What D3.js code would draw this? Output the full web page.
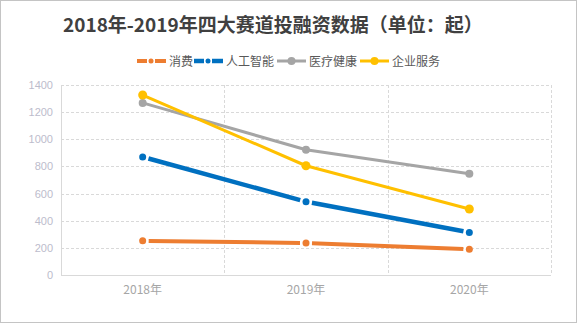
<!DOCTYPE html>
<html><head><meta charset="utf-8">
<script src="https://cdn.jsdelivr.net/npm/d3@7/dist/d3.min.js"></script>
<style>html,body{margin:0;padding:0;background:#fff;}svg{display:block;}</style>
</head><body>
<script>
const categories = ["2018年", "2019年", "2020年"];
const seriesNames = ["消费", "人工智能", "医疗健康", "企业服务"];
const consumption = [252, 236, 189];
const ai = [870, 540, 314];
const medical = [1268, 923, 746];
const enterprise = [1326, 805, 486];
const yTicks = [0, 200, 400, 600, 800, 1000, 1200, 1400];
const title = "2018年-2019年四大赛道投融资数据（单位：起）";

const W = 578, H = 324;
const m = {l: 61, r: 551, t: 85, b: 275};
const font = "'Noto Sans CJK SC','Liberation Sans',sans-serif";

const svg = d3.select("body").append("svg").attr("width", W).attr("height", H);
svg.append("rect").attr("x", 0.5).attr("y", 0.5).attr("width", W - 2).attr("height", H - 2)
  .attr("fill", "#fff").attr("stroke", "#c4c4c4");

const x = d3.scaleBand().domain(categories).range([m.l, m.r]);
const y = d3.scaleLinear().domain([0, 1400]).range([m.b, m.t]);

// horizontal gridlines
svg.append("g").selectAll("line").data(yTicks.filter(d => d > 0)).join("line")
  .attr("x1", m.l).attr("x2", m.r).attr("y1", d => Math.round(y(d)) + 0.5).attr("y2", d => Math.round(y(d)) + 0.5)
  .attr("stroke", "#d9d9d9").attr("stroke-dasharray", "3,2");
// vertical gridlines at band boundaries
const bounds = categories.slice(1).map(c => x(c)).concat([m.r]);
svg.append("g").selectAll("line").data(bounds).join("line")
  .attr("x1", d => Math.round(d) + 0.5).attr("x2", d => Math.round(d) + 0.5).attr("y1", m.t).attr("y2", m.b)
  .attr("stroke", "#d9d9d9").attr("stroke-dasharray", "3,2");
// axes lines
svg.append("line").attr("x1", m.l).attr("x2", m.r).attr("y1", m.b + 0.5).attr("y2", m.b + 0.5).attr("stroke", "#d9d9d9");
svg.append("line").attr("x1", m.l + 0.5).attr("x2", m.l + 0.5).attr("y1", m.t).attr("y2", m.b).attr("stroke", "#d9d9d9");

// y axis labels
const yAxis = d3.axisLeft(y).tickValues(yTicks).tickFormat(d3.format("d")).tickSize(0).tickPadding(8);
const yg = svg.append("g").attr("transform", `translate(${m.l},0)`).call(yAxis);
yg.select(".domain").remove();
yg.selectAll("text").attr("fill", "#bcbccc").attr("font-size", 11).attr("font-family", "'Liberation Sans',Arial,sans-serif");

// x axis labels
const xAxis = d3.axisBottom(x).tickSize(0).tickPadding(10);
const xg = svg.append("g").attr("transform", `translate(0,${m.b})`).call(xAxis);
xg.select(".domain").remove();
xg.selectAll("text").attr("fill", "#a6a6a6").attr("font-size", 12).attr("font-family", font);

const series = [
  {name: seriesNames[0], values: consumption, color: "#ED7D31", width: 4, r: 3.5, gap: 6},
  {name: seriesNames[1], values: ai, color: "#0070C0", width: 4.5, r: 3.5, gap: 6},
  {name: seriesNames[2], values: medical, color: "#A5A5A5", width: 3, r: 4, gap: 0},
  {name: seriesNames[3], values: enterprise, color: "#FFC000", width: 3, r: 4.5, gap: 0}
];
const cx = c => x(c) + x.bandwidth() / 2;

series.forEach(s => {
  const pts = s.values.map((v, i) => [cx(categories[i]), y(v)]);
  const g = svg.append("g");
  if (s.gap > 0) {
    for (let i = 0; i < pts.length - 1; i++) {
      const [x1, y1] = pts[i], [x2, y2] = pts[i + 1];
      const len = Math.hypot(x2 - x1, y2 - y1);
      const ux = (x2 - x1) / len, uy = (y2 - y1) / len;
      g.append("line")
        .attr("x1", x1 + ux * s.gap).attr("y1", y1 + uy * s.gap)
        .attr("x2", x2 - ux * s.gap).attr("y2", y2 - uy * s.gap)
        .attr("stroke", s.color).attr("stroke-width", s.width);
    }
  } else {
    g.append("path").attr("d", d3.line()(pts)).attr("fill", "none")
      .attr("stroke", s.color).attr("stroke-width", s.width).attr("stroke-linejoin", "round");
  }
  g.selectAll("circle").data(pts).join("circle")
    .attr("cx", d => d[0]).attr("cy", d => d[1]).attr("r", s.r).attr("fill", s.color);
});

// title
svg.append("text").attr("x", 63).attr("y", 32).text(title)
  .attr("font-family", font).attr("font-weight", "bold").attr("font-size", 19).attr("fill", "#404040");

// legend
const legendX = [137, 194, 277, 360];
series.forEach((s, i) => {
  const lx = legendX[i], ly = 61;
  const g = svg.append("g");
  if (s.gap > 0) {
    g.append("line").attr("x1", lx).attr("x2", lx + 10).attr("y1", ly).attr("y2", ly).attr("stroke", s.color).attr("stroke-width", s.width);
    g.append("circle").attr("cx", lx + 14).attr("cy", ly).attr("r", 2.5).attr("fill", s.color);
    g.append("line").attr("x1", lx + 18).attr("x2", lx + 29).attr("y1", ly).attr("y2", ly).attr("stroke", s.color).attr("stroke-width", s.width);
  } else {
    g.append("line").attr("x1", lx).attr("x2", lx + 29).attr("y1", ly).attr("y2", ly).attr("stroke", s.color).attr("stroke-width", s.width);
    g.append("circle").attr("cx", lx + 14.5).attr("cy", ly).attr("r", 4).attr("fill", s.color);
  }
  g.append("text").attr("x", lx + 32).attr("y", ly + 4.5).text(s.name)
    .attr("font-family", font).attr("font-size", 12).attr("fill", "#595959");
});
</script>
</body></html>
